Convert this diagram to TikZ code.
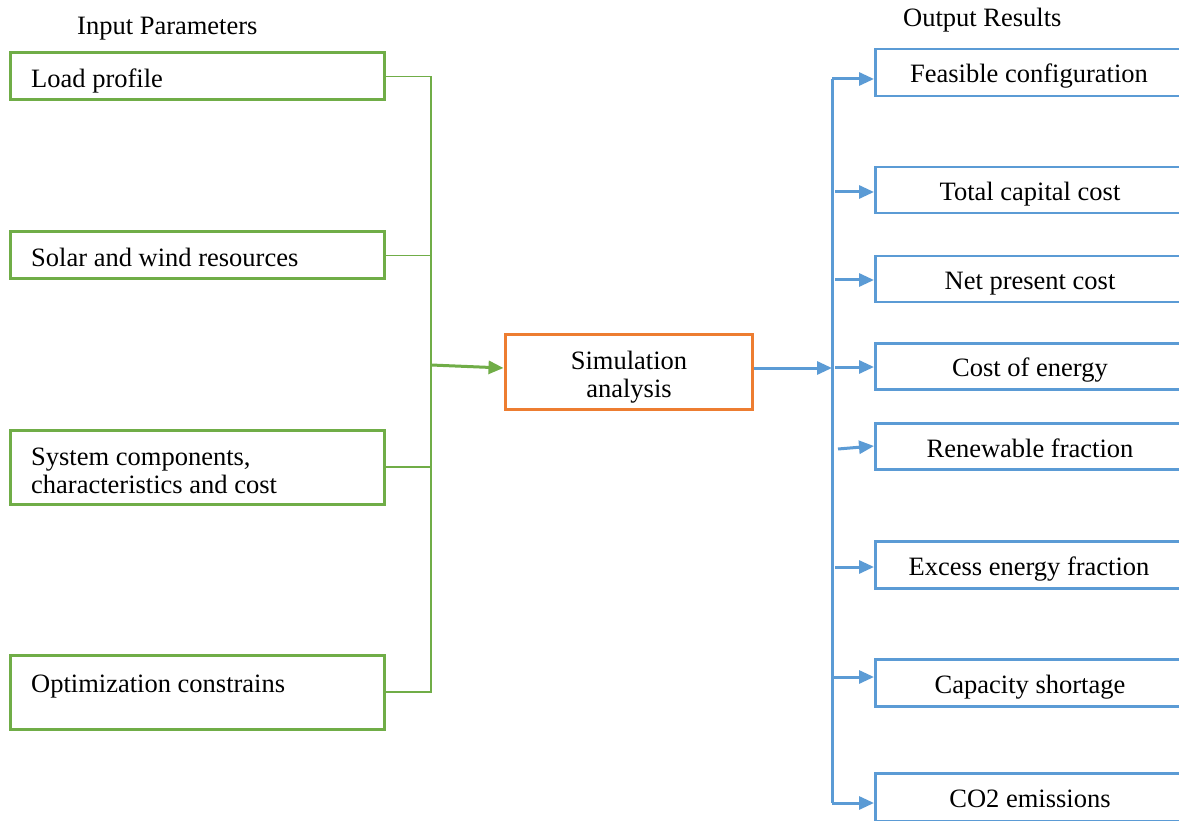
\documentclass[tikz,border=0pt]{standalone}
\usepackage{fontspec}
\setmainfont{Liberation Serif}
\usetikzlibrary{arrows.meta,calc}
\definecolor{gr}{RGB}{112,173,71}
\definecolor{org}{RGB}{237,125,49}
\definecolor{bl}{RGB}{91,155,213}
\begin{document}
\begin{tikzpicture}[x=1pt,y=-1pt,
  inbox/.style={draw=gr,line width=3pt,minimum width=374pt,inner sep=0pt},
  outbox/.style={draw=bl,line width=2.5pt,minimum width=320pt,inner sep=0pt,anchor=north west},
  simbox/.style={draw=org,line width=3pt,minimum width=247pt,minimum height=74pt,inner sep=0pt},
  txt/.style={font=\fontsize{26.5}{30}\selectfont,inner sep=0pt},
  gline/.style={draw=gr,line width=1.8pt},
  garrow/.style={draw=gr,line width=3pt,-{Triangle[length=15pt,width=13pt]}},
  bline/.style={draw=bl,line width=3pt},
  barrow/.style={draw=bl,line width=3pt,-{Triangle[length=15pt,width=13pt]}}]
\useasboundingbox (0,0) rectangle (1179,821);
\clip (0,0) rectangle (1179,821);
\fill[white] (0,0) rectangle (1179,821);
% headings
\node[txt,anchor=base west] (hin) at (77,35) {Input Parameters};
\node[txt,anchor=base west] (hout) at (903,27) {Output Results};
% input boxes
\node[inbox,minimum height=47pt] (lp) at (197,76.5) {};
\node[inbox,minimum height=47pt] (sw) at (197,255.5) {};
\node[inbox,minimum height=74pt] (sc) at (197,467) {};
\node[inbox,minimum height=74pt] (oc) at (197,692) {};
\node[txt,anchor=base west] (lpt) at (31,88) {Load profile};
\node[txt,anchor=base west] (swt) at (31,267) {Solar and wind resources};
\node[txt,anchor=base west] (sct1) at (31,465) {System components,};
\node[txt,anchor=base west] (sct2) at (31,493) {characteristics and cost};
\node[txt,anchor=base west] (oct) at (31,692) {Optimization constrains};
% simulation
\node[simbox] (sim) at (628.5,372) {};
\node[txt,anchor=base] (simt1) at (629,370) {Simulation};
\node[txt,anchor=base] (simt2) at (629,397) {analysis};
% output boxes
\node[outbox,minimum height=47pt] (fc) at (874,48) {};
\node[outbox,minimum height=46pt] (tc) at (874,166) {};
\node[outbox,minimum height=46pt] (np) at (874,255) {};
\node[outbox,minimum height=46pt] (ce) at (874,342) {};
\node[outbox,minimum height=46pt] (rf) at (874,422) {};
\node[outbox,minimum height=47pt] (ef) at (874,540) {};
\node[outbox,minimum height=47pt] (cs) at (874,658) {};
\node[outbox,minimum height=48pt] (co) at (874,772) {};
\node[txt,anchor=base] (fct) at (1029,83) {Feasible configuration};
\node[txt,anchor=base] (tct) at (1030,201) {Total capital cost};
\node[txt,anchor=base] (npt) at (1030,290) {Net present cost};
\node[txt,anchor=base] (cet) at (1030,377) {Cost of energy};
\node[txt,anchor=base] (rft) at (1030,457) {Renewable fraction};
\node[txt,anchor=base] (eft) at (1029,575) {Excess energy fraction};
\node[txt,anchor=base] (cst) at (1030,693) {Capacity shortage};
\node[txt,anchor=base] (cot) at (1030,807) {CO2 emissions};
% green bus
\coordinate (gtop) at (431,76.5);
\coordinate (gbot) at (431,692);
\coordinate (gmid) at (431,365);
\draw[gline] (lp.east) -- (gtop) -- (gbot) -- (oc.east);
\draw[gline] (sw.east) -- (sw.east -| gtop);
\draw[gline] (sc.east) -- (sc.east -| gtop);
\draw[garrow] (gmid) -- ([yshift=4pt]sim.west);
% blue bus
\coordinate (btop) at (832,79);
\coordinate (bbot) at (832,803);
\coordinate (bmid) at (832,368);
\draw[barrow] ([yshift=4pt]sim.east) -- (bmid);
\draw[bline] (btop) -- (bbot);
\draw[barrow] (btop) -- (btop -| fc.west);
\coordinate (a2) at (835,192);
\draw[barrow] (a2) -- (a2 -| tc.west);
\coordinate (a3) at (835,280);
\draw[barrow] (a3) -- (a3 -| np.west);
\coordinate (a4) at (835,367);
\draw[barrow] (a4) -- (a4 -| ce.west);
\coordinate (a5s) at (838,449);
\coordinate (a5e) at (874,446);
\draw[barrow] (a5s) -- (a5e);
\coordinate (a6) at (835,567);
\draw[barrow] (a6) -- (a6 -| ef.west);
\coordinate (a7) at (832,677);
\draw[barrow] (a7) -- (a7 -| cs.west);
\draw[barrow] (bbot) -- (bbot -| co.west);
\end{tikzpicture}
\end{document}
